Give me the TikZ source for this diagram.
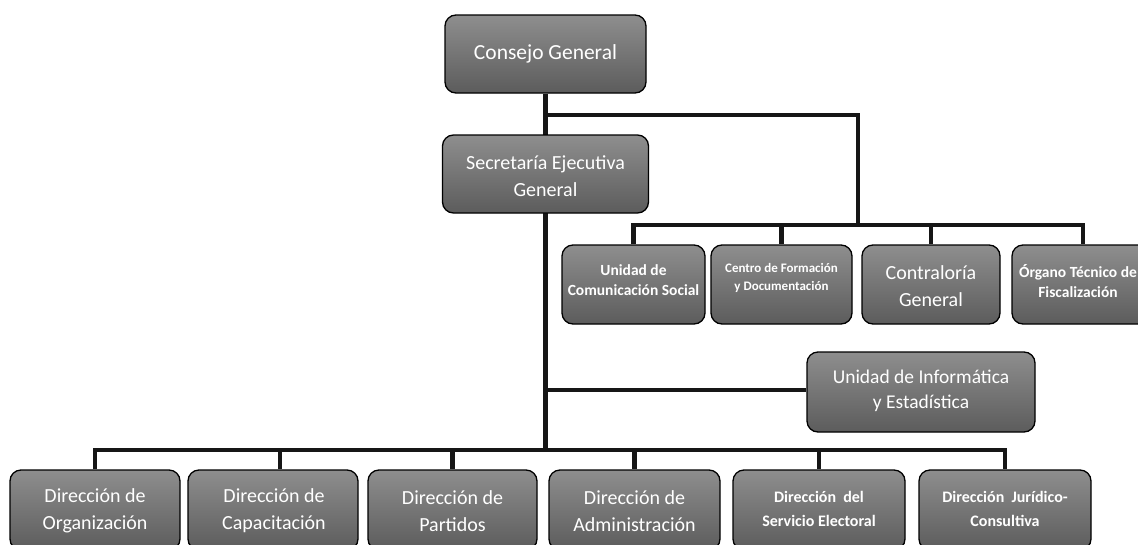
\documentclass[tikz,border=0pt]{standalone}
\usepackage{fontspec}
\setmainfont{Carlito}
\usetikzlibrary{backgrounds}
\definecolor{boxtop}{RGB}{142,142,142}
\definecolor{boxbot}{RGB}{92,92,92}
\definecolor{linec}{RGB}{22,22,22}
\begin{document}
\begin{tikzpicture}[x=1pt,y=-1pt,
  box/.style={draw=black, line width=1.3pt, rounded corners=11pt, top color=boxtop, bottom color=boxbot, inner sep=0pt},
  lbl/.style={text=white, align=center, inner sep=0pt},
  conn/.style={draw=linec, line width=4.6pt},
  reg/.style={font=\fontsize{20}{27}\selectfont},
  bld/.style={font=\bfseries\fontsize{15.5}{20}\selectfont},
]
\clip (0,0) rectangle (1138,544);
\useasboundingbox (0,0) rectangle (1138,544);

% boxes
\node[box, minimum width=201pt, minimum height=78pt] (cg) at (545.5,54) {};
\node[box, minimum width=206pt, minimum height=78pt] (seg) at (545.5,174) {};

\node[box, minimum width=143pt, minimum height=79pt] (ucs) at (633.5,284.5) {};
\node[box, minimum width=141pt, minimum height=79pt] (cfd) at (781.5,284.5) {};
\node[box, minimum width=138pt, minimum height=79pt] (cgc) at (931,284.5) {};
\node[box, minimum width=142pt, minimum height=79pt] (otf) at (1083,284.5) {};

\node[box, minimum width=228pt, minimum height=80pt] (uie) at (921,392) {};

\node[box, minimum width=170pt, minimum height=80pt] (d1) at (95,510) {};
\node[box, minimum width=170pt, minimum height=80pt] (d2) at (273,510) {};
\node[box, minimum width=169pt, minimum height=80pt] (d3) at (452.5,510) {};
\node[box, minimum width=171pt, minimum height=80pt] (d4) at (634.5,510) {};
\node[box, minimum width=172pt, minimum height=80pt] (d5) at (819,510) {};
\node[box, minimum width=172pt, minimum height=80pt] (d6) at (1005,510) {};

% labels
\node[lbl, font=\fontsize{21.5}{27}\selectfont] (cgt) at (cg.center) {Consejo General};
\node[lbl, reg] (segt) at ([yshift=-2pt]seg.center) {Secretaría Ejecutiva\\General};
\node[lbl, bld] (ucst) at (633.5,280) {Unidad de\\Comunicación Social};
\node[lbl, font=\bfseries\fontsize{13}{18}\selectfont] (cfdt) at (781.5,278) {Centro de Formación\\y Documentación};
\node[lbl, reg] (cgct) at (931,286) {Contraloría\\General};
\node[lbl, bld] (otft) at (1078,281) {Órgano Técnico de\\Fiscalización};
\node[lbl, font=\fontsize{19.5}{25}\selectfont] (uiet) at (921,391) {Unidad de Informática\\y Estadística};
\node[lbl, reg] (d1t) at (95,511) {Dirección de\\Organización};
\node[lbl, reg] (d2t) at (274,511) {Dirección de\\Capacitación};
\node[lbl, reg] (d3t) at (452.5,511) {Dirección de\\Partidos};
\node[lbl, reg] (d4t) at (634.5,511) {Dirección de\\Administración};
\node[lbl, font=\bfseries\fontsize{16}{24}\selectfont] (d5t) at (819,509) {Dirección\ \ del\\Servicio Electoral};
\node[lbl, font=\bfseries\fontsize{16}{24}\selectfont] (d6t) at (1005,509) {Dirección\ \ Jurídico-\\Consultiva};

% junction points
\coordinate (jtop) at (cg.south |- 0,115);
\coordinate (jr) at (858,225);
\coordinate (ji) at (cg.south |- 0,390);
\coordinate (jb) at (cg.south |- 0,450);

\begin{pgfonlayer}{background}
\draw[conn] (cg.south) -- (jb);
\draw[conn] (jtop) -| (jr);
\draw[conn] (ucs.north) |- (otf.north |- jr) -- (otf.north);
\draw[conn] (cfd.north |- jr) -- (cfd.north);
\draw[conn] (cgc.north |- jr) -- (cgc.north);
\draw[conn] (ji) -- (ji -| uie.west);
\draw[conn] (d1.north) |- (d6.north |- jb) -- (d6.north);
\draw[conn] ([xshift=7pt]d2.north |- jb) -- ([xshift=7pt]d2.north);
\draw[conn] (d3.north |- jb) -- (d3.north);
\draw[conn] (d4.north |- jb) -- (d4.north);
\draw[conn] (d5.north |- jb) -- (d5.north);
\end{pgfonlayer}
\end{tikzpicture}
\end{document}
